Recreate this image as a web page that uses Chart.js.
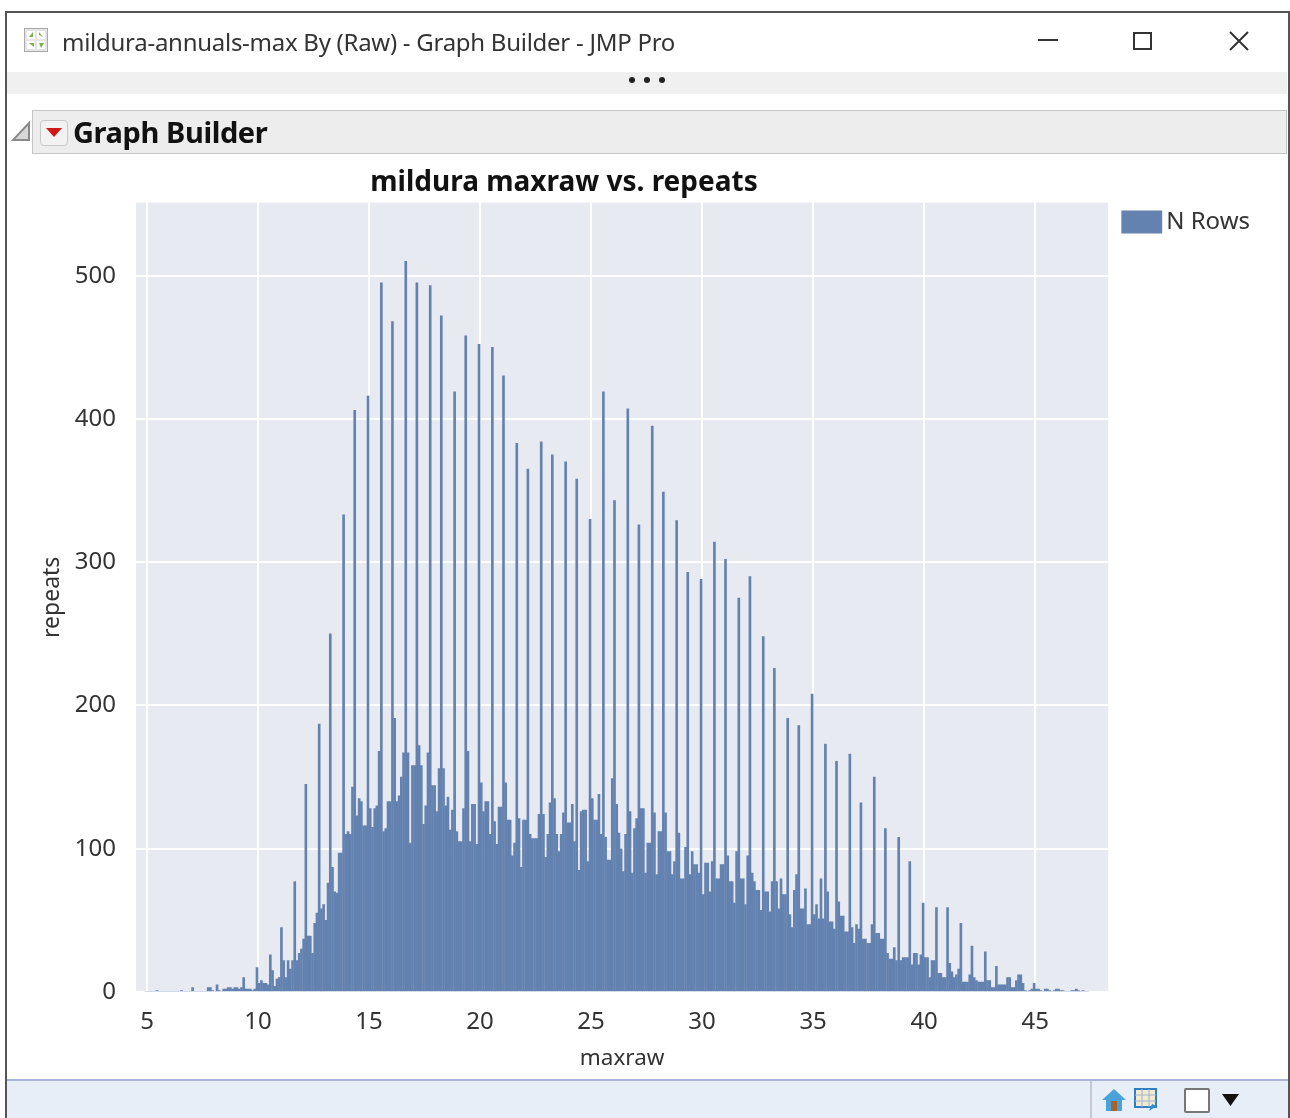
<!DOCTYPE html>
<html><head><meta charset="utf-8">
<style>
html,body{margin:0;padding:0;background:#fff;width:1290px;height:1118px;overflow:hidden}
#page{position:absolute;left:0;top:0;width:1290px;height:1118px;filter:blur(0.7px);font-family:"Noto Sans",sans-serif}
.a{position:absolute}
canvas{position:absolute;left:0;top:0}
</style>
<script src="https://cdn.jsdelivr.net/npm/chart.js@4"></script>
</head><body>
<div id="page">
<div class="a" style="left:5px;top:11px;height:1107px;border:solid #555;border-width:2px 2px 0 2px;box-sizing:border-box;width:1285px"></div>
<svg class="a" style="left:24px;top:28px" width="24" height="24"><rect x="0.5" y="0.5" width="23" height="23" fill="#e4e4e4" stroke="#aaa"/><path d="M3 3h8v8H3zM13 3h8v8h-8zM3 13h8v8H3zM13 13h8v8h-8z" fill="#fff"/><path d="M5 9l4-5v5zM19 9l-4-5v3zM5 15h5v4zM15 15h5l-3 5z" fill="#7fb045"/></svg>
<div class="a" id="wt" style="left:62px;top:26px;font-size:24px;line-height:32px;color:#333;white-space:nowrap;letter-spacing:-0.27px">mildura-annuals-max By (Raw) - Graph Builder - JMP Pro</div>
<div class="a" style="left:1038px;top:39px;width:20px;height:2px;background:#333"></div>
<div class="a" style="left:1133px;top:32px;width:19px;height:18px;border:2px solid #333;box-sizing:border-box"></div>
<svg class="a" style="left:1228px;top:30px" width="22" height="22"><path d="M2 2L20 20M20 2L2 20" stroke="#333" stroke-width="2"/></svg>
<div class="a" style="left:7px;top:72px;width:1280px;height:22px;background:#f0f0f0"></div>
<div class="a" style="left:629px;top:77px;width:6px;height:6px;border-radius:3px;background:#222"></div>
<div class="a" style="left:644px;top:77px;width:6px;height:6px;border-radius:3px;background:#222"></div>
<div class="a" style="left:659px;top:77px;width:6px;height:6px;border-radius:3px;background:#222"></div>
<div class="a" style="left:32px;top:110px;width:1255px;height:44px;background:#ededed;border:1px solid #c4c4c4;box-sizing:border-box"></div>
<svg class="a" style="left:11px;top:121px" width="20" height="21"><path d="M18 2V19H2z" fill="#d8d8d8" stroke="#8a8a8a" stroke-width="2"/></svg>
<div class="a" style="left:40px;top:120px;width:28px;height:26px;background:#f2f2f2;border:1px solid #c8c8c8;border-radius:4px;box-sizing:border-box"></div>
<svg class="a" style="left:46px;top:128px" width="16" height="10"><path d="M0 0H16L8 9z" fill="#d01818"/></svg>
<div class="a" style="left:73px;top:113px;font-size:29px;line-height:38px;font-weight:700;color:#111;white-space:nowrap;letter-spacing:-0.4px">Graph Builder</div>
<div class="a" style="left:7px;top:1079px;width:1281px;height:39px;background:#e8eef7;border-top:2px solid #a9b5d9;box-sizing:border-box"></div>
<div class="a" style="left:1090px;top:1081px;width:2px;height:37px;background:#c4c8d2"></div>
<svg class="a" style="left:1101px;top:1088px" width="26" height="24"><path d="M1 12L13 1L25 12H21V23H5V12z" fill="#4aa3d8"/><rect x="10" y="13" width="6" height="10" fill="#a8622a"/></svg>
<svg class="a" style="left:1134px;top:1088px" width="25" height="24"><rect x="1" y="1" width="21" height="18" fill="#f3e9d0" stroke="#2f7fc0" stroke-width="2"/><path d="M8 1v18M15 1v18M1 7h21M1 13h21" stroke="#9fb5cf"/><path d="M15 23l3-7 5 2z" fill="#2f8fd0"/></svg>
<div class="a" style="left:1184px;top:1088px;width:26px;height:25px;background:#fff;border:2px solid #777;border-radius:2px;box-sizing:border-box"></div>
<svg class="a" style="left:1222px;top:1094px" width="17" height="12"><path d="M0 0H17L8.5 12z" fill="#111"/></svg>
<canvas id="c" width="1290" height="1118"></canvas>
</div>
<script>
const maxraw=[
5.0,5.1,5.2,5.3,5.4,5.5,5.6,5.7,5.8,5.9,
6.0,6.1,6.2,6.3,6.4,6.5,6.6,6.7,6.8,6.9,
7.0,7.1,7.2,7.3,7.4,7.5,7.6,7.7,7.8,7.9,
8.0,8.1,8.2,8.3,8.4,8.5,8.6,8.7,8.8,8.9,
9.0,9.1,9.2,9.3,9.4,9.5,9.6,9.7,9.8,9.9,
10.0,10.1,10.2,10.3,10.4,10.5,10.6,10.7,10.8,10.9,
11.0,11.1,11.2,11.3,11.4,11.5,11.6,11.7,11.8,11.9,
12.0,12.1,12.2,12.3,12.4,12.5,12.6,12.7,12.8,12.9,
13.0,13.1,13.2,13.3,13.4,13.5,13.6,13.7,13.8,13.9,
14.0,14.1,14.2,14.3,14.4,14.5,14.6,14.7,14.8,14.9,
15.0,15.1,15.2,15.3,15.4,15.5,15.6,15.7,15.8,15.9,
16.0,16.1,16.2,16.3,16.4,16.5,16.6,16.7,16.8,16.9,
17.0,17.1,17.2,17.3,17.4,17.5,17.6,17.7,17.8,17.9,
18.0,18.1,18.2,18.3,18.4,18.5,18.6,18.7,18.8,18.9,
19.0,19.1,19.2,19.3,19.4,19.5,19.6,19.7,19.8,19.9,
20.0,20.1,20.2,20.3,20.4,20.5,20.6,20.7,20.8,20.9,
21.0,21.1,21.2,21.3,21.4,21.5,21.6,21.7,21.8,21.9,
22.0,22.1,22.2,22.3,22.4,22.5,22.6,22.7,22.8,22.9,
23.0,23.1,23.2,23.3,23.4,23.5,23.6,23.7,23.8,23.9,
24.0,24.1,24.2,24.3,24.4,24.5,24.6,24.7,24.8,24.9,
25.0,25.1,25.2,25.3,25.4,25.5,25.6,25.7,25.8,25.9,
26.0,26.1,26.2,26.3,26.4,26.5,26.6,26.7,26.8,26.9,
27.0,27.1,27.2,27.3,27.4,27.5,27.6,27.7,27.8,27.9,
28.0,28.1,28.2,28.3,28.4,28.5,28.6,28.7,28.8,28.9,
29.0,29.1,29.2,29.3,29.4,29.5,29.6,29.7,29.8,29.9,
30.0,30.1,30.2,30.3,30.4,30.5,30.6,30.7,30.8,30.9,
31.0,31.1,31.2,31.3,31.4,31.5,31.6,31.7,31.8,31.9,
32.0,32.1,32.2,32.3,32.4,32.5,32.6,32.7,32.8,32.9,
33.0,33.1,33.2,33.3,33.4,33.5,33.6,33.7,33.8,33.9,
34.0,34.1,34.2,34.3,34.4,34.5,34.6,34.7,34.8,34.9,
35.0,35.1,35.2,35.3,35.4,35.5,35.6,35.7,35.8,35.9,
36.0,36.1,36.2,36.3,36.4,36.5,36.6,36.7,36.8,36.9,
37.0,37.1,37.2,37.3,37.4,37.5,37.6,37.7,37.8,37.9,
38.0,38.1,38.2,38.3,38.4,38.5,38.6,38.7,38.8,38.9,
39.0,39.1,39.2,39.3,39.4,39.5,39.6,39.7,39.8,39.9,
40.0,40.1,40.2,40.3,40.4,40.5,40.6,40.7,40.8,40.9,
41.0,41.1,41.2,41.3,41.4,41.5,41.6,41.7,41.8,41.9,
42.0,42.1,42.2,42.3,42.4,42.5,42.6,42.7,42.8,42.9,
43.0,43.1,43.2,43.3,43.4,43.5,43.6,43.7,43.8,43.9,
44.0,44.1,44.2,44.3,44.4,44.5,44.6,44.7,44.8,44.9,
45.0,45.1,45.2,45.3,45.4,45.5,45.6,45.7,45.8,45.9,
46.0,46.1,46.2,46.3,46.4,46.5,46.6,46.7,46.8,46.9,
47.0,47.1,47.2,47.3,47.4];
const repeats=[
0,0,0,0,0,1,0,0,0,0,
0,0,0,0,0,0,1,0,0,0,
0,3,0,0,0,0,0,0,3,3,
1,0,5,1,0,2,2,3,3,2,
3,3,2,3,10,2,2,2,1,2,
17,6,8,6,6,5,26,15,4,9,
10,45,22,10,22,16,22,77,22,27,
30,37,145,39,39,27,48,55,187,58,
61,50,76,250,87,70,69,97,97,333,
110,112,110,143,406,123,135,133,116,116,
416,128,115,128,130,168,495,112,114,133,
133,468,191,133,137,150,167,510,167,104,
158,158,495,172,158,117,130,167,493,144,
144,126,156,472,156,130,136,113,127,419,
112,105,105,128,458,168,105,131,131,103,
452,146,126,133,133,110,450,119,103,129,
129,430,146,120,120,95,104,383,121,87,
120,120,365,110,107,107,107,124,384,124,
94,110,132,375,135,110,98,110,125,370,
118,118,131,105,358,85,126,127,127,91,
330,135,120,120,138,110,419,108,92,92,
149,343,131,111,100,84,110,407,126,83,
114,121,326,128,128,83,104,104,395,125,
82,112,112,349,125,98,98,82,91,329,
111,79,79,101,293,82,98,89,89,83,
288,68,90,90,70,91,314,79,79,89,
89,302,95,77,77,62,98,275,79,79,
61,95,290,83,77,71,71,57,248,70,
70,56,77,226,77,58,79,68,68,191,
54,45,71,82,186,58,58,72,47,47,
208,54,61,51,79,51,173,70,49,49,
44,161,63,53,53,42,42,166,45,34,
47,44,132,37,37,34,34,47,150,41,
41,37,37,114,27,23,23,31,22,108,
22,24,24,24,91,19,27,27,19,26,
62,24,24,10,22,22,59,13,13,10,
10,59,20,14,10,12,16,48,7,7,
7,12,32,10,8,7,7,7,28,8,
8,3,3,18,5,5,5,5,10,10,
3,3,8,12,12,6,1,0,1,2,
6,2,2,1,0,2,2,1,0,1,
2,2,1,1,0,0,0,1,1,2,
1,0,1,0,0];
const seriesName="N Rows";
const chartTitle="mildura maxraw vs. repeats";
const xTitle="maxraw";
const yTitle="repeats";

const FONT='"Noto Sans",sans-serif';
const frame={
  id:'frame',
  beforeDraw(chart){
    const a=chart.chartArea,c=chart.ctx;
    c.save();c.fillStyle='#e8eaf2';c.fillRect(a.left,a.top,a.right-a.left,a.bottom-a.top);c.restore();
  },
  afterLayout(chart){
    chart.titleBlock.left=0;chart.titleBlock.right=1128;
    const g=chart.legend;
    g.left+=13;g.right+=13;g.top+=45;g.bottom+=45;
  },
  afterDatasetsUpdate(chart){
    chart.getDatasetMeta(0).data.forEach(b=>{b.x-=1;});
  }
};
new Chart(document.getElementById('c'),{
  type:'bar',
  data:{datasets:[{
    label:seriesName,
    data:maxraw.map((x,i)=>({x,y:repeats[i]})),
    backgroundColor:'#6482b0',
    borderWidth:0,
    barThickness:2
  }]},
  plugins:[frame],
  options:{
    responsive:false,animation:false,
    layout:{padding:{left:36,top:157,right:43,bottom:38}},
    plugins:{
      tooltip:{enabled:false},
      title:{display:true,text:chartTitle,color:'#111',font:{family:FONT,size:28,weight:'bold'},padding:{top:9,bottom:3}},
      legend:{position:'right',align:'start',
        labels:{color:'#333',font:{family:FONT,size:24},boxWidth:25,boxHeight:7,padding:8,
          generateLabels(){return [{text:seriesName,fillStyle:'#6482b0',strokeStyle:'#6482b0',lineWidth:16,fontColor:'#333'}];}}}
    },
    scales:{
      x:{type:'linear',offset:false,min:4.505,max:48.29,
        grid:{color:'#fff',lineWidth:2,offset:false,drawTicks:false},border:{display:false},
        ticks:{stepSize:5,includeBounds:false,padding:16,color:'#333',font:{family:FONT,size:24},maxRotation:0},
        title:{display:true,text:xTitle,color:'#333',font:{family:FONT,size:22.5},padding:{top:0,bottom:8}},
        afterFit(s){s.height=88;}
      },
      y:{min:0,max:551,
        grid:{color:'#fff',lineWidth:2,drawTicks:false},border:{display:false},
        ticks:{stepSize:100,includeBounds:false,padding:20,color:'#333',font:{family:FONT,size:24}},
        title:{display:true,text:yTitle,color:'#333',font:{family:FONT,size:23},padding:{top:3,bottom:0}},
        afterFit(s){s.width=100;}
      }
    }
  }
});
</script>
</body></html>
